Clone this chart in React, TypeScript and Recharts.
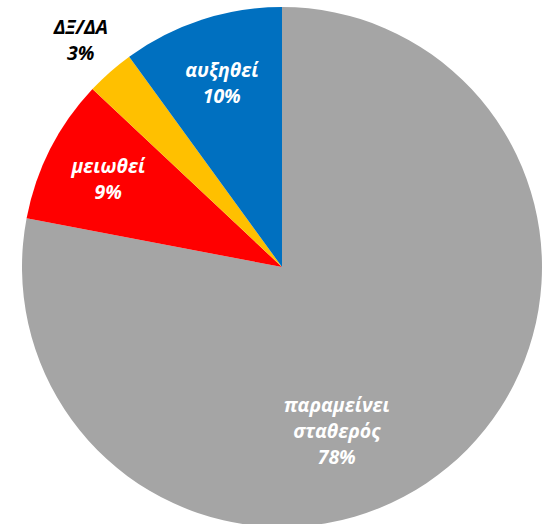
import { PieChart, Pie, Cell } from "recharts"

const categories = ["παραμείνει σταθερός", "μειωθεί", "ΔΞ/ΔΑ", "αυξηθεί"]
const shares = [78, 9, 3, 10]
const sliceColors = ["#A5A5A5", "#FF0000", "#FFC000", "#0070C0"]

// label placement per slice: radius as a fraction of outer radius, optional angle override
const labelPlacement = [
  { r: 0.66, angle: -71.4, color: "#FFFFFF", lines: ["παραμείνει", "σταθερός"] },
  { r: 0.75, color: "#FFFFFF", lines: ["μειωθεί"] },
  { r: 1.17, color: "#000000", lines: ["ΔΞ/ΔΑ"] },
  { r: 0.75, color: "#FFFFFF", lines: ["αυξηθεί"] },
]

const chartData = categories.map((name, i) => ({ name, value: shares[i] }))

const RAD = Math.PI / 180
const LINE_HEIGHT = 26

function renderLabel(props: any) {
  const { cx, cy, midAngle, outerRadius, index, value } = props
  const place = labelPlacement[index]
  const angle = place.angle ?? midAngle
  const r = outerRadius * place.r
  const x = cx + r * Math.cos(-angle * RAD)
  const y = cy + r * Math.sin(-angle * RAD)
  const lines = [...place.lines, `${value}%`]
  const top = y - ((lines.length - 1) * LINE_HEIGHT) / 2
  return (
    <text
      x={x}
      y={top}
      fill={place.color}
      textAnchor="middle"
      dominantBaseline="central"
      fontFamily="'Open Sans', 'Noto Sans', sans-serif"
      fontSize={19.5}
      fontWeight="bold"
      fontStyle="italic"
    >
      {lines.map((line, i) => (
        <tspan key={i} x={x} y={top + i * LINE_HEIGHT}>
          {line}
        </tspan>
      ))}
    </text>
  )
}

export default function App() {
  return (
    <div style={{ position: "absolute", left: 0, top: 0, width: 545, height: 524, background: "#fff" }}>
      <PieChart width={545} height={524} margin={{ top: 0, right: 0, bottom: 0, left: 0 }}>
        <Pie
          data={chartData}
          dataKey="value"
          nameKey="name"
          cx={282}
          cy={267}
          outerRadius={260}
          startAngle={90}
          endAngle={-270}
          stroke="none"
          label={renderLabel}
          labelLine={false}
          isAnimationActive={false}
        >
          {chartData.map((_, i) => (
            <Cell key={i} fill={sliceColors[i]} />
          ))}
        </Pie>
      </PieChart>
    </div>
  )
}
